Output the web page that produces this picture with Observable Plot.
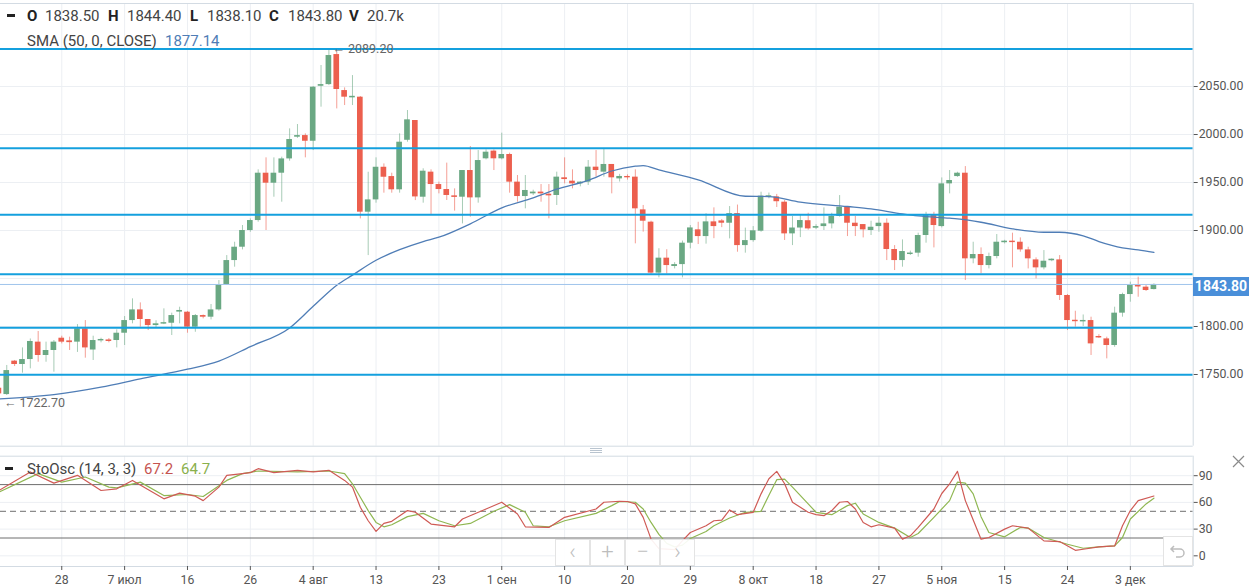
<!DOCTYPE html>
<html>
<head>
<meta charset="utf-8">
<script src="https://cdn.jsdelivr.net/npm/d3@7"></script>
<script src="https://cdn.jsdelivr.net/npm/@observablehq/plot@0.6"></script>
<style>
  html, body { margin: 0; padding: 0; background: #fff; }
  #wrap { position: relative; width: 1249px; height: 588px; overflow: hidden; font-family: Roboto, "Noto Sans", sans-serif; }
  #wrap svg { display: block; }
  .abs { position: absolute; white-space: nowrap; line-height: 18px; }
  .lg { font-size: 15px; color: #444; }
  .lb { font-weight: bold; color: #222; }
  .dash { position: absolute; width: 8px; height: 3px; background: #222; }
  .tb { position: absolute; top: 539px; height: 27px; width: 35px; box-sizing: border-box; border: 1px solid #e4e4e4; background: rgba(255,255,255,0.92); color: #bdbdbd; font-size: 22px; line-height: 24px; text-align: center; font-weight: 300; }
</style>
</head>
<body>
<div id="wrap">
  <div id="main" style="position:absolute;left:0;top:0"></div>
  <div id="osc" style="position:absolute;left:0;top:450px"></div>
</div>
<script>
// ---------------- DATA ----------------
const open = [1735.7,1729.1,1763.9,1760.4,1765.6,1783.7,1769.8,1775.0,1787.8,1785.0,
1783.7,1797.6,1775.5,1785.0,1786.0,1785.4,1793.0,1806.2,1817.3,1807.3,
1801.0,1802.5,1803.4,1815.0,1814.9,1799.3,1811.4,1809.7,1817.3,1843.7,
1868.7,1882.6,1900.0,1910.4,1959.7,1949.3,1959.7,1974.6,1997.2,1998.9,
1993.0,2050.3,2052.0,2083.3,2045.8,2038.2,2038.9,1919.1,1931.9,1965.9,
1956.2,1942.4,1994.0,2014.6,1934.7,1960.8,1947.9,1942.7,1936.1,1934.7,
1962.5,1934.0,1974.7,1982.7,1974.7,1979.2,1950.4,1935.4,1938.2,1940.0,
1937.8,1936.5,1954.9,1951.4,1948.6,1950.4,1966.0,1960.8,1968.8,1953.8,
1956.3,1955.6,1921.5,1908.7,1855.6,1871.2,1862.5,1864.5,1886.8,1900.7,
1893.7,1909.0,1910.0,1907.6,1917.6,1884.3,1889.5,1899.3,1934.7,1935.0,
1929.5,1896.5,1902.6,1910.2,1902.4,1904.1,1906.9,1914.6,1924.3,1907.6,
1906.2,1900.0,1904.1,1907.6,1880.2,1868.7,1875.0,1876.4,1894.8,1915.6,
1904.1,1948.6,1956.2,1959.7,1870.5,1875.0,1863.5,1872.9,1887.3,1888.9,
1887.8,1879.8,1869.4,1861.1,1868.5,1869.4,1832.3,1806.5,1804.8,1806.2,
1789.6,1787.1,1780.2,1813.9,1833.3,1842.7,1841.0,1838.5];
const high = [1738.0,1759.4,1764.6,1777.7,1787.0,1794.8,1783.7,1785.4,1789.9,1788.9,
1802.0,1806.2,1789.9,1787.8,1787.5,1796.5,1810.4,1828.8,1824.6,1807.3,
1806.0,1818.4,1813.9,1820.1,1815.7,1812.5,1812.0,1822.9,1847.9,1873.9,
1887.8,1905.2,1912.1,1963.2,1975.7,1975.7,1976.4,2005.9,2010.4,2000.7,
2050.0,2071.9,2089.2,2085.7,2048.6,2061.4,2039.6,1960.7,1975.7,1969.4,
1959.7,2000.7,2025.0,2014.6,1964.3,1963.2,1950.4,1970.2,1943.4,1962.5,
1987.5,1983.3,1984.0,1984.0,2001.4,1980.6,1957.3,1957.3,1942.0,1947.9,
1947.9,1960.8,1975.7,1963.2,1951.0,1972.9,1983.3,1985.1,1968.8,1958.5,
1958.0,1963.2,1926.1,1909.7,1881.0,1880.0,1866.5,1889.0,1905.2,1908.6,
1917.5,1923.6,1911.5,1925.0,1926.5,1902.5,1904.1,1939.9,1939.0,1937.6,
1931.2,1914.6,1916.0,1918.0,1906.0,1923.6,1918.0,1936.4,1925.0,1914.6,
1906.2,1909.7,1913.9,1912.1,1884.3,1890.2,1878.5,1897.2,1919.0,1919.0,
1954.8,1962.5,1960.7,1966.6,1887.8,1881.9,1876.4,1895.8,1889.8,1897.2,
1892.3,1882.6,1871.5,1879.1,1870.5,1873.9,1833.3,1815.9,1812.0,1809.7,
1791.5,1788.9,1820.1,1834.7,1846.2,1851.4,1843.0,1844.4];
const low = [1722.7,1728.1,1758.3,1751.4,1755.9,1762.8,1762.8,1752.4,1781.9,1775.0,
1773.0,1767.0,1764.6,1783.0,1783.0,1777.7,1780.2,1802.8,1799.3,1795.8,
1799.0,1802.0,1790.6,1802.8,1793.0,1794.0,1808.0,1806.9,1816.0,1842.7,
1861.8,1879.8,1898.2,1908.7,1900.0,1934.7,1929.5,1972.2,1996.0,1975.7,
1983.3,2028.5,2051.0,2026.7,2030.2,2030.2,1912.1,1873.9,1928.5,1938.9,
1938.9,1938.9,1992.0,1931.2,1928.5,1916.7,1938.2,1931.3,1920.2,1906.9,
1913.9,1928.5,1973.6,1962.5,1973.6,1938.9,1929.5,1922.6,1936.5,1929.5,
1912.2,1926.1,1948.6,1943.4,1945.5,1946.9,1955.6,1955.6,1938.2,1950.5,
1952.5,1886.1,1898.3,1854.2,1850.7,1854.8,1860.0,1850.7,1880.9,1885.4,
1885.8,1891.5,1903.0,1891.3,1877.4,1876.4,1887.8,1898.2,1933.0,1924.0,
1889.6,1884.3,1892.6,1900.4,1901.0,1900.0,1901.7,1913.9,1893.7,1893.7,
1892.3,1894.8,1898.2,1868.7,1858.3,1861.8,1874.0,1872.2,1886.8,1881.9,
1902.7,1938.2,1955.4,1847.9,1865.3,1854.8,1860.0,1870.5,1886.0,1861.1,
1877.4,1860.0,1849.6,1859.0,1867.5,1827.1,1795.8,1799.3,1800.0,1769.8,
1787.5,1766.3,1778.4,1809.7,1825.3,1830.5,1836.5,1838.1];
const close = [1729.8,1754.1,1760.4,1765.6,1784.4,1769.8,1775.0,1783.7,1783.7,1783.2,
1797.6,1777.7,1785.4,1786.5,1784.4,1793.0,1806.2,1817.3,1807.3,1801.0,
1802.8,1804.0,1811.4,1816.7,1799.3,1811.4,1809.7,1817.3,1843.7,1868.7,
1882.6,1900.0,1910.4,1959.7,1949.3,1959.7,1974.6,1994.8,1998.9,1993.0,
2049.3,2052.0,2082.3,2046.9,2038.9,2039.8,1919.1,1931.9,1965.9,1955.5,
1942.4,1992.0,2015.3,1935.0,1961.8,1947.9,1942.7,1936.5,1934.5,1962.5,
1934.0,1972.9,1981.6,1974.7,1979.2,1950.4,1935.4,1941.7,1940.0,1938.2,
1936.1,1955.6,1953.1,1948.6,1950.4,1966.0,1962.5,1968.8,1954.9,1956.3,
1954.9,1922.6,1909.7,1855.6,1871.2,1863.5,1864.5,1886.8,1902.7,1893.7,
1909.0,1904.1,1907.6,1917.6,1884.3,1889.5,1899.7,1935.8,1936.2,1930.0,
1896.5,1902.6,1910.4,1901.7,1904.1,1906.9,1914.6,1924.3,1907.6,1904.1,
1900.7,1903.4,1907.6,1880.2,1868.7,1878.1,1876.5,1894.8,1915.6,1905.2,
1948.6,1952.1,1959.7,1870.5,1875.0,1863.5,1872.9,1887.8,1888.9,1887.4,
1879.8,1870.5,1861.1,1868.0,1870.1,1832.3,1806.2,1805.0,1806.3,1781.9,
1788.1,1780.2,1813.9,1833.3,1842.7,1841.2,1837.5,1843.8];
const lastVolume = "20.7k";

// SMA (50) at bar indices
const smaIdx = [0,7,13,18,24,28,32,37,40,43,45,48,51,54,56,60,64,68,71,75,78,81,82,84,89,95,98,102,108,111,115,117,121,122,125,129,133,135,138,140,143,145,147];
const smaVal = [1724.6,1729.1,1736.8,1745.5,1755.5,1764.0,1779.0,1798.5,1821.0,1843.0,1853.5,1869.0,1880.0,1888.5,1893.0,1907.0,1923.6,1934.0,1943.0,1952.3,1962.0,1967.0,1967.7,1963.2,1952.7,1935.7,1935.4,1929.5,1925.0,1922.5,1917.3,1915.2,1912.8,1912.1,1908.6,1901.7,1898.2,1898.2,1894.5,1888.5,1881.9,1879.8,1877.14];

// Stochastic oscillator %K (red) and %D (green)
const kIdx = [0,4,7,10,13,15,17,21,23,25,26,28,29,31,32,33,35,38,40,42,44,45,46,47,48,49,50,52,53,55,58,59,62,64,66,67,70,72,76,77,79,80,81,82,83,84,86,87,88,90,91,92,93,94,96,97,98,99,100,101,103,104,105,106,107,108,109,110,111,112,114,115,116,117,119,120,121,122,123,125,126,128,129,131,133,135,137,138,140,142,143,144,145,147];
const kVal = [73.4,94.2,81.7,90.4,73.4,75.3,84.7,64.0,70.4,67.0,62.0,77.2,90.4,92.3,93.4,97.9,93.4,96.0,94.2,96.0,84.7,77.2,54.5,39.4,27.4,36.4,38.7,50.8,48.9,35.7,32.6,41.3,52.6,60.2,47.0,32.6,31.9,43.2,52.6,60.2,61.3,61.0,58.3,43.2,18.7,8.0,7.0,17.0,26.2,33.8,39.4,40.2,51.5,46.2,48.9,69.6,86.6,94.9,80.9,60.2,48.9,46.2,45.1,50.8,60.2,61.0,52.6,37.5,32.6,34.9,31.1,18.7,22.5,31.9,52.6,70.0,80.9,94.9,62.0,18.7,20.6,30.0,33.8,31.1,16.8,16.0,6.2,7.4,10.0,11.1,33.8,50.8,62.0,67.2];
const dIdx = [0,5,8,11,14,15,18,21,24,26,29,31,33,38,42,44,45,46,47,48,49,50,52,54,56,58,60,63,65,67,68,70,72,76,78,79,81,82,83,84,85,86,87,88,90,91,93,95,97,98,99,100,101,103,104,106,108,109,110,112,114,116,117,119,121,122,123,124,125,126,128,130,131,133,136,138,140,142,143,144,146,147];
const dVal = [71.5,92.3,82.8,88.5,77.2,76.4,82.8,67.7,68.9,66.6,84.7,92.3,95.3,94.2,95.3,92.3,80.9,65.8,50.8,37.5,32.6,34.9,44.0,47.7,39.4,33.8,36.4,50.0,57.5,48.9,33.8,32.6,39.4,47.7,56.4,61.0,60.2,52.6,37.5,24.0,14.0,10.0,12.0,19.5,27.4,33.8,42.5,48.9,50.0,68.0,85.5,86.2,77.2,58.3,48.9,46.2,56.4,59.1,47.0,37.5,31.1,20.6,25.1,43.2,62.0,82.8,81.7,69.6,44.0,26.2,21.3,31.9,31.1,20.6,13.0,8.5,10.0,11.1,20.6,41.3,58.3,64.7];

const levels = [2089.2, 1985.7, 1916.4, 1854.5, 1798.6, 1749.7];
const priceGrid = [1750, 1800, 1850, 1900, 1950, 2000, 2050];
const priceLabelTicks = [1750, 1800, 1900, 1950, 2000, 2050];
const oscTicks = [0, 30, 60, 90];
const oscLevels = [80, 20];
const oscMid = [50];
const tickIdx = [8,16,24,32,40,48,56,64,72,80,88,96,104,112,120,128,136,144];
const tickLabels = ["28","7 июл","16","26","4 авг","13","23","1 сен","10","20","29","8 окт","18","27","5 ноя","15","24","3 дек"];

// ---------------- CHART ----------------
const GREEN = "#6aa883", RED = "#ec5f4e", LEVEL = "#14a0de", GRID = "#eceff3", BORDER = "#d3dbe3";
const xDom = [0.204, 152.0];
const yDom = [1675.3, 2136.5];
const oDom = [-12, 111.9];

const n = close.length;
const bars = d3.range(n).map(i => ({i, open: open[i], high: high[i], low: low[i], close: close[i], col: close[i] >= open[i] ? GREEN : RED}));
const sma = smaIdx.map((i, k) => ({i, v: smaVal[k]}));
const kLine = kIdx.map((i, k) => ({i, v: kVal[k]}));
const dLine = dIdx.map((i, k) => ({i, v: dVal[k]}));
const hiI = d3.maxIndex(high), loI = d3.minIndex(low);

const main = Plot.plot({
  width: 1249, height: 450,
  marginLeft: 0, marginRight: 56.3, marginTop: 3, marginBottom: 4.3,
  x: {domain: xDom, axis: null, label: null},
  y: {domain: yDom, axis: null, label: null},
  color: {type: "identity"},
  style: {fontFamily: "Roboto, sans-serif", fontSize: "12.3px", background: "transparent"},
  marks: [
    Plot.ruleX(tickIdx, {stroke: GRID}),
    Plot.ruleY(priceGrid, {stroke: GRID}),
    Plot.ruleX(bars, {x: "i", y1: "low", y2: "high", stroke: "col", strokeOpacity: 0.6}),
    Plot.rect(bars, {x1: d => d.i - 0.36, x2: d => d.i + 0.36, y1: "open", y2: "close", fill: "col"}),
    Plot.line(sma, {x: "i", y: "v", stroke: "#4f7db6", strokeWidth: 1.3, curve: "monotone-x"}),
    Plot.ruleY([close[n - 1]], {stroke: "#9fc4ec", strokeWidth: 1}),
    Plot.ruleY(levels, {stroke: LEVEL, strokeWidth: 2}),
    Plot.text([{i: hiI, p: high[hiI]}], {x: "i", y: "p", text: d => "← " + d.p.toFixed(2), textAnchor: "start", dx: 3.5, fill: "#666", fontSize: 12.5}),
    Plot.text([{i: loI, p: low[loI]}], {x: "i", y: "p", text: d => "← " + d.p.toFixed(2), textAnchor: "start", dx: 5, dy: 2.5, fill: "#666", fontSize: 12.5}),
    Plot.ruleY([yDom[1]], {stroke: BORDER}),
    Plot.ruleY([yDom[0]], {stroke: BORDER}),
    Plot.ruleX([xDom[1]], {stroke: BORDER}),
    Plot.axisY({anchor: "right", label: null, ticks: priceLabelTicks, tickFormat: d => d.toFixed(2), tickSize: 4, tickPadding: 1.5, color: "#555", fontSize: 12.3})
  ]
});
document.getElementById("main").appendChild(main);

const osc = Plot.plot({
  width: 1249, height: 138,
  marginLeft: 0, marginRight: 56.3, marginTop: 5.7, marginBottom: 22,
  x: {domain: xDom, axis: null, label: null},
  y: {domain: oDom, axis: null, label: null},
  style: {fontFamily: "Roboto, sans-serif", fontSize: "12.3px", background: "transparent"},
  marks: [
    Plot.ruleX(tickIdx, {stroke: GRID}),
    Plot.ruleY(oscTicks, {stroke: GRID}),
    Plot.ruleY(oscLevels, {stroke: "#6e6e6e", strokeWidth: 1}),
    Plot.ruleY(oscMid, {stroke: "#707070", strokeWidth: 1, strokeDasharray: "6,4"}),
    Plot.line(dLine, {x: "i", y: "v", stroke: "#8fb752", strokeWidth: 1.2}),
    Plot.line(kLine, {x: "i", y: "v", stroke: "#cf5a55", strokeWidth: 1.2}),
    Plot.ruleY([oDom[1]], {stroke: BORDER}),
    Plot.ruleY([oDom[0]], {stroke: BORDER}),
    Plot.ruleX([xDom[1]], {stroke: BORDER}),
    Plot.axisY({anchor: "right", label: null, ticks: oscTicks, tickFormat: d => String(d), tickSize: 4, tickPadding: 1.5, color: "#555", fontSize: 12.3}),
    Plot.axisX({anchor: "bottom", label: null, ticks: tickIdx, tickFormat: d => tickLabels[tickIdx.indexOf(d)], tickSize: 4, tickPadding: 5, color: "#555", fontSize: 12.3})
  ]
});
document.getElementById("osc").appendChild(osc);

// ---------------- OVERLAYS (legends, price tag, toolbar) ----------------
const wrap = document.getElementById("wrap");
function add(html) { wrap.insertAdjacentHTML("beforeend", html); }
const f2 = v => v.toFixed(2);

add(`<div class="dash" style="left:7px;top:14px"></div>`);
const items = [["O", open[n-1], 27, 45], ["H", high[n-1], 108, 127], ["L", low[n-1], 190, 207], ["C", close[n-1], 269, 288]];
items.forEach(([k, v, xl, xv]) => {
  add(`<div class="abs lg lb" style="left:${xl}px;top:7px">${k}</div>`);
  add(`<div class="abs lg" style="left:${xv}px;top:7px">${f2(v)}</div>`);
});
add(`<div class="abs lg lb" style="left:349px;top:7px">V</div>`);
add(`<div class="abs lg" style="left:367px;top:7px">${lastVolume}</div>`);
add(`<div class="abs lg" style="left:27px;top:32px">SMA (50, 0, CLOSE)</div>`);
add(`<div class="abs lg" style="left:165px;top:32px;color:#4f7db6">${f2(smaVal[smaVal.length-1])}</div>`);

// oscillator legend
add(`<div class="dash" style="left:5px;top:467px"></div>`);
add(`<div class="abs lg" style="left:27px;top:460px">StoOsc (14, 3, 3)</div>`);
add(`<div class="abs lg" style="left:144px;top:460px;color:#c55450">${kVal[kVal.length-1].toFixed(1)}</div>`);
add(`<div class="abs lg" style="left:181px;top:460px;color:#8ab04c">${dVal[dVal.length-1].toFixed(1)}</div>`);

// price tag
const yLast = main.scale("y").apply(close[n-1]);
add(`<div class="abs" style="left:1193px;top:${yLast - 6.5}px;width:56px;height:19px;background:#4a8fd9;color:#fff;font-size:14px;font-weight:bold;line-height:19px;text-align:center">${f2(close[n-1])}</div>`);

// separator handle
add(`<div style="position:absolute;left:590px;top:448px;width:12px;height:1px;background:#b9c4cf"></div>
     <div style="position:absolute;left:590px;top:450px;width:12px;height:1px;background:#b9c4cf"></div>
     <div style="position:absolute;left:590px;top:452px;width:12px;height:1px;background:#b9c4cf"></div>`);

// navigation toolbar
[["‹", 555], ["+", 590], ["−", 625], ["›", 660]].forEach(([g, x]) => {
  add(`<div class="tb" style="left:${x}px">${g}</div>`);
});
// reset button
add(`<div style="position:absolute;left:1163px;top:536px;width:30px;height:30px;box-sizing:border-box;border:1px solid #e4e4e4;background:#fff">
  <svg width="28" height="28" style="position:absolute;left:0;top:0"><path d="M10 9 L7 12 L10 15 M7 12 H16 A4 4 0 0 1 16 20 H12" fill="none" stroke="#bdbdbd" stroke-width="1.5"/></svg></div>`);
// close icon
add(`<svg width="14" height="14" style="position:absolute;left:1232px;top:455px"><path d="M1 1 L12 12 M12 1 L1 12" stroke="#8a8a8a" stroke-width="1.2"/></svg>`);
</script>
</body>
</html>
